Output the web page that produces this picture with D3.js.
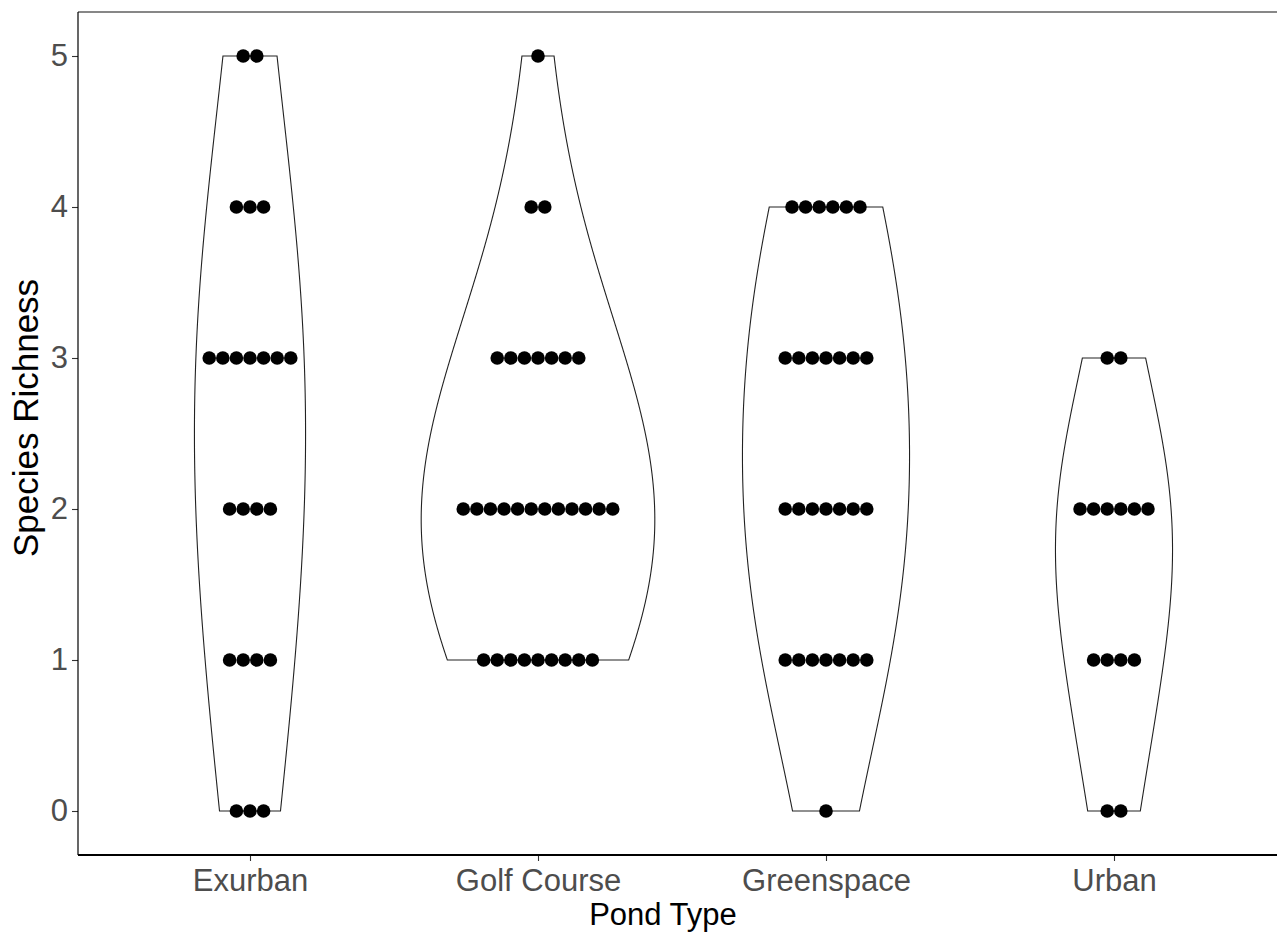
<!DOCTYPE html>
<html>
<head>
<meta charset="utf-8">
<script src="https://cdn.jsdelivr.net/npm/d3@7"></script>
<style>
  body { margin: 0; background: #fff; }
  text { font-family: "Liberation Sans", Arial, sans-serif; }
</style>
</head>
<body>
<div id="chart"></div>
<script>
var width  = 1277;
var height = 935;

// Pond types and how many ponds had each species richness (0..5)
var pondTypes        = ["Exurban", "Golf Course", "Greenspace", "Urban"];
var richnessLevels   = [0, 1, 2, 3, 4, 5];
var exurbanCounts    = [3, 4, 4, 7, 3, 2];
var golfCourseCounts = [0, 9, 12, 7, 2, 1];
var greenspaceCounts = [1, 7, 7, 7, 6, 0];
var urbanCounts      = [2, 4, 6, 2, 0, 0];
var yTicks           = [0, 1, 2, 3, 4, 5];

var countsByType = [exurbanCounts, golfCourseCounts, greenspaceCounts, urbanCounts];

var svg = d3.select("#chart").append("svg")
  .attr("width", width)
  .attr("height", height);

svg.append("rect").attr("width", width).attr("height", height).attr("fill", "#fff");

var panelLeft = 78, panelTop = 12, panelBottom = 855;

var x = d3.scalePoint().domain(pondTypes).range([250, 1114]);
var y = d3.scaleLinear().domain([-0.2914, 5.2914]).range([panelBottom, panelTop]);

// expand the counts into single observations
var groups = pondTypes.map(function(type, i) {
  var values = [];
  richnessLevels.forEach(function(level, j) {
    for (var k = 0; k < countsByType[i][j]; k++) values.push(level);
  });
  return { type: type, values: values, counts: countsByType[i] };
});

// bw.nrd0 like R, with adjust = 2
function bandwidth(values) {
  var sd = d3.deviation(values);
  var iqr = d3.quantile(values, 0.75) - d3.quantile(values, 0.25);
  var lo = Math.min(sd, iqr / 1.34);
  return 0.9 * lo * Math.pow(values.length, -0.2) * 2;
}

function kde(values) {
  var h = bandwidth(values), n = values.length;
  var lo = d3.min(values), hi = d3.max(values);
  var pts = [];
  for (var i = 0; i < 512; i++) {
    var t = lo + (hi - lo) * i / 511;
    var s = 0;
    values.forEach(function(v) {
      var u = (t - v) / h;
      s += Math.exp(-0.5 * u * u) / Math.sqrt(2 * Math.PI);
    });
    pts.push([t, s / (n * h)]);
  }
  return pts;
}

groups.forEach(function(g) { g.density = kde(g.values); });

var maxDensity = d3.max(groups, function(g) { return d3.max(g.density, function(d) { return d[1]; }); });
var maxN = d3.max(groups, function(g) { return g.values.length; });
var halfWidth = 0.45 * x.step();

// violins
groups.forEach(function(g) {
  var cx = x(g.type);
  var scale = g.values.length / maxN / maxDensity * halfWidth;
  var right = g.density.map(function(d) { return [cx + d[1] * scale, y(d[0])]; });
  var left = g.density.slice().reverse().map(function(d) { return [cx - d[1] * scale, y(d[0])]; });
  svg.append("path")
    .attr("d", d3.line()(right.concat(left)) + "Z")
    .attr("fill", "#fff")
    .attr("stroke", "#222")
    .attr("stroke-width", 1.1);
});

// centred dot stacks
var dotDiameter = y(0) - y(0.09);
groups.forEach(function(g) {
  richnessLevels.forEach(function(level, j) {
    var n = g.counts[j];
    d3.range(n).forEach(function(k) {
      svg.append("circle")
        .attr("cx", x(g.type) + (k - (n - 1) / 2) * dotDiameter)
        .attr("cy", y(level))
        .attr("r", dotDiameter / 2)
        .attr("fill", "#000");
    });
  });
});

// axes
var yAxis = svg.append("g")
  .attr("transform", "translate(" + panelLeft + ",0)")
  .call(d3.axisLeft(y).tickValues(yTicks).tickFormat(d3.format("d")).tickSize(6).tickPadding(4));
var xAxis = svg.append("g")
  .attr("transform", "translate(0," + panelBottom + ")")
  .call(d3.axisBottom(x).tickSize(6).tickPadding(8));

[yAxis, xAxis].forEach(function(ax) {
  ax.select(".domain").remove();
  ax.selectAll(".tick line").attr("stroke", "#333").attr("stroke-width", 1.1);
  ax.selectAll(".tick text")
    .attr("fill", "#4d4d4d")
    .style("font-size", "31px");
});

svg.append("line")
  .attr("x1", panelLeft).attr("x2", width)
  .attr("y1", panelTop).attr("y2", panelTop)
  .attr("stroke", "#5f5f5f").attr("stroke-width", 1.5);
svg.append("line")
  .attr("x1", panelLeft).attr("x2", panelLeft)
  .attr("y1", panelTop).attr("y2", panelBottom)
  .attr("stroke", "#000").attr("stroke-width", 1.2);
svg.append("line")
  .attr("x1", panelLeft).attr("x2", width)
  .attr("y1", panelBottom).attr("y2", panelBottom)
  .attr("stroke", "#000").attr("stroke-width", 2);

// titles
svg.append("text")
  .attr("x", 663).attr("y", 925)
  .attr("text-anchor", "middle")
  .style("font-size", "31px")
  .attr("fill", "#000")
  .text("Pond Type");
svg.append("text")
  .attr("transform", "translate(38,418) rotate(-90)")
  .attr("text-anchor", "middle")
  .style("font-size", "35px")
  .attr("fill", "#000")
  .text("Species Richness");
</script>
</body>
</html>
